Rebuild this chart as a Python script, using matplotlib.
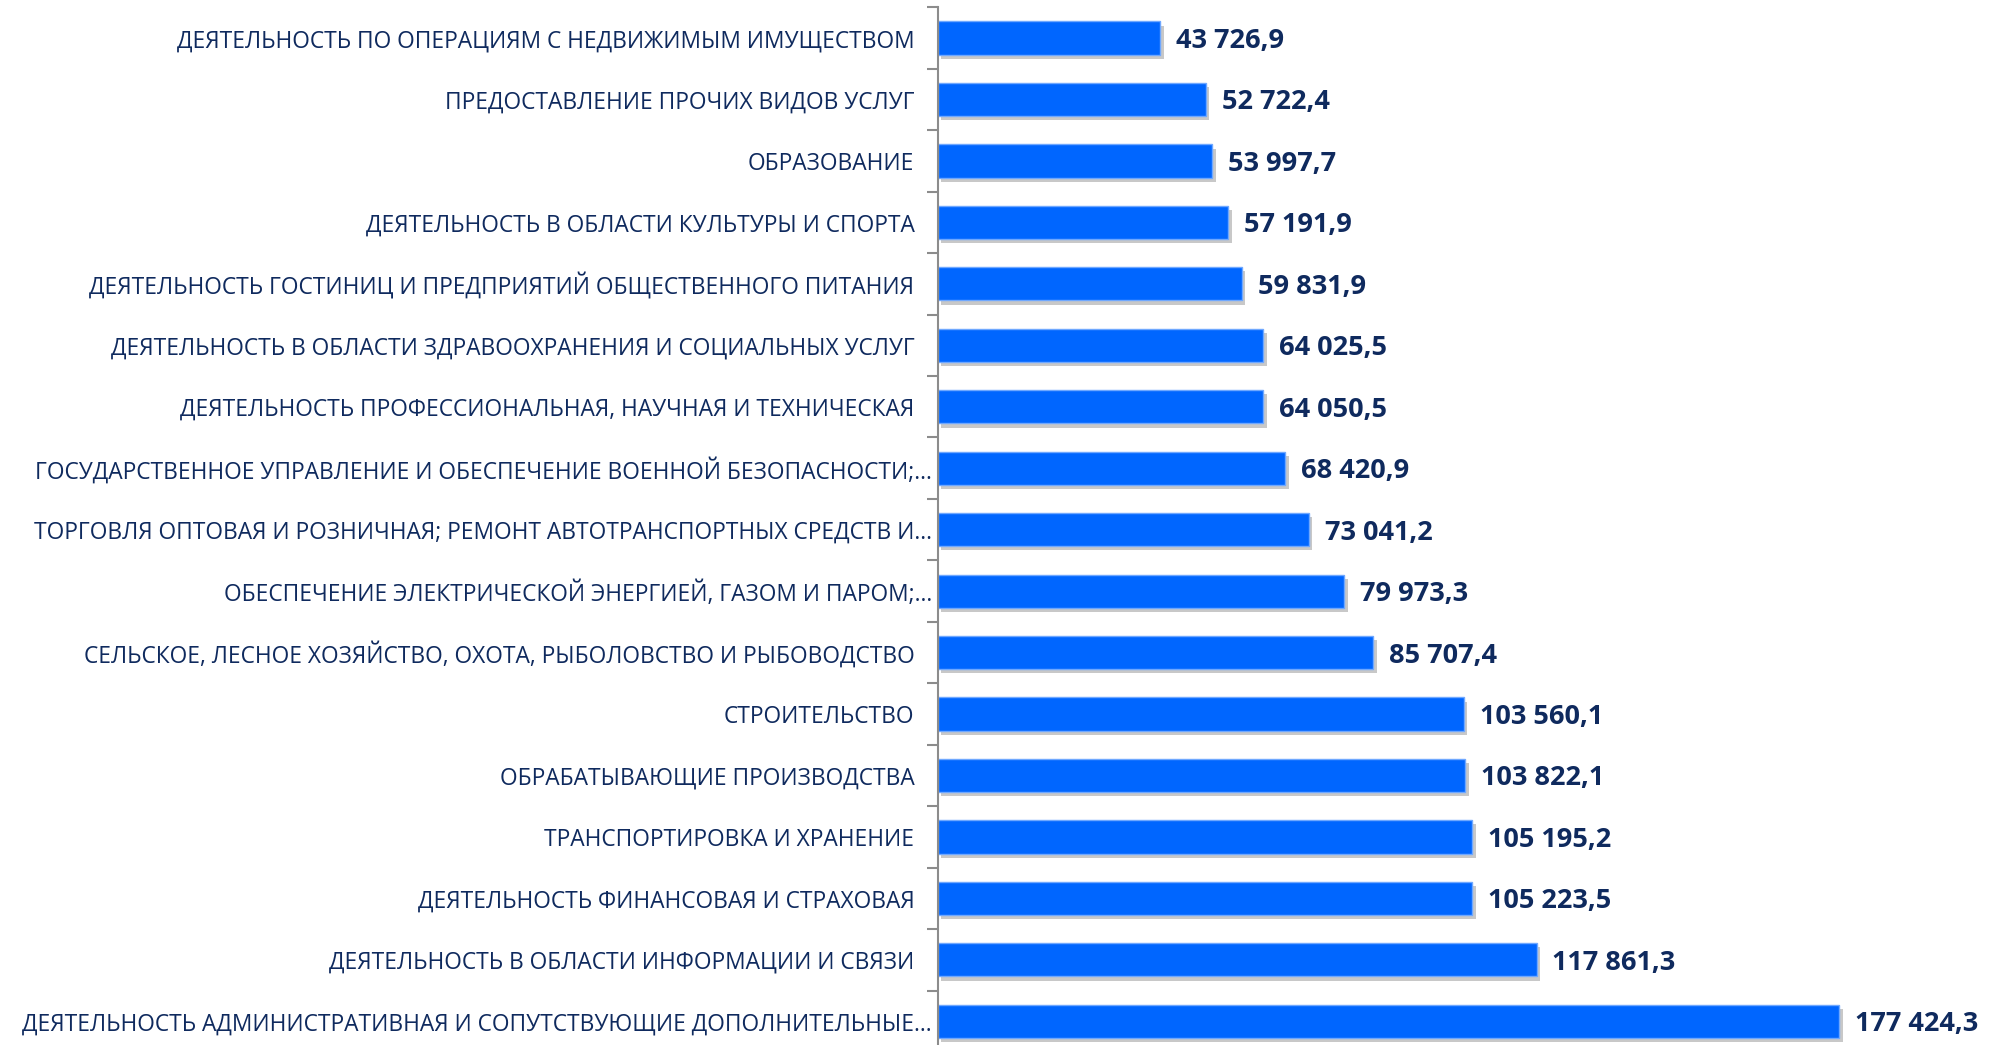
import numpy as np
import matplotlib
matplotlib.use("Agg")
import matplotlib.pyplot as plt
import matplotlib.patheffects as pe

##data (top to bottom as in the picture)
labels = [
    "ДЕЯТЕЛЬНОСТЬ ПО ОПЕРАЦИЯМ С НЕДВИЖИМЫМ ИМУЩЕСТВОМ",
    "ПРЕДОСТАВЛЕНИЕ ПРОЧИХ ВИДОВ УСЛУГ",
    "ОБРАЗОВАНИЕ",
    "ДЕЯТЕЛЬНОСТЬ В ОБЛАСТИ КУЛЬТУРЫ И СПОРТА",
    "ДЕЯТЕЛЬНОСТЬ ГОСТИНИЦ И ПРЕДПРИЯТИЙ ОБЩЕСТВЕННОГО ПИТАНИЯ",
    "ДЕЯТЕЛЬНОСТЬ В ОБЛАСТИ ЗДРАВООХРАНЕНИЯ И СОЦИАЛЬНЫХ УСЛУГ",
    "ДЕЯТЕЛЬНОСТЬ ПРОФЕССИОНАЛЬНАЯ, НАУЧНАЯ И ТЕХНИЧЕСКАЯ",
    "ГОСУДАРСТВЕННОЕ УПРАВЛЕНИЕ И ОБЕСПЕЧЕНИЕ ВОЕННОЙ БЕЗОПАСНОСТИ;…",
    "ТОРГОВЛЯ ОПТОВАЯ И РОЗНИЧНАЯ; РЕМОНТ АВТОТРАНСПОРТНЫХ СРЕДСТВ И…",
    "ОБЕСПЕЧЕНИЕ ЭЛЕКТРИЧЕСКОЙ ЭНЕРГИЕЙ, ГАЗОМ И ПАРОМ;…",
    "СЕЛЬСКОЕ, ЛЕСНОЕ ХОЗЯЙСТВО, ОХОТА, РЫБОЛОВСТВО И РЫБОВОДСТВО",
    "СТРОИТЕЛЬСТВО",
    "ОБРАБАТЫВАЮЩИЕ ПРОИЗВОДСТВА",
    "ТРАНСПОРТИРОВКА И ХРАНЕНИЕ",
    "ДЕЯТЕЛЬНОСТЬ ФИНАНСОВАЯ И СТРАХОВАЯ",
    "ДЕЯТЕЛЬНОСТЬ В ОБЛАСТИ ИНФОРМАЦИИ И СВЯЗИ",
    "ДЕЯТЕЛЬНОСТЬ АДМИНИСТРАТИВНАЯ И СОПУТСТВУЮЩИЕ ДОПОЛНИТЕЛЬНЫЕ…",
]
values = [43726.9, 52722.4, 53997.7, 57191.9, 59831.9, 64025.5, 64050.5,
          68420.9, 73041.2, 79973.3, 85707.4, 103560.1, 103822.1, 105195.2,
          105223.5, 117861.3, 177424.3]

##set up figure
W, H = 2001, 1045
fig = plt.figure(figsize=(W / 100, H / 100), dpi=100)
ax_left = 938 / W
ax_top = 7.3
ax_bottom = 1052.0
ax = fig.add_axes([ax_left, 1 - ax_bottom / H, 1 - ax_left, (ax_bottom - ax_top) / H])

navy = "#0F2A5E"
bar_col = "#0066FF"

y = np.arange(len(values))
bars = ax.barh(y, values, height=0.54, color=bar_col, edgecolor="#6FA8FF", linewidth=1.0)
for b in bars:
    b.set_path_effects([pe.SimplePatchShadow(offset=(2.5, -3), shadow_rgbFace="#777777", alpha=0.4),
                        pe.Normal()])

ax.set_ylim(len(values) - 0.5, -0.5)
ax.set_xlim(0, 209300)

##value labels
for yi, v in zip(y, values):
    txt = f"{v:,.1f}".replace(",", " ").replace(".", ",")
    ax.text(v + 3100, yi, txt, va="center_baseline", ha="left", fontsize=19.5, fontweight="bold",
            color=navy, family="Open Sans")

##category labels (truncated ones sit closer to the axis, like in excel)
for yi, lab in zip(y, labels):
    off = -4.3 if lab.endswith("…") else -17
    ax.annotate(lab, xy=(0, yi), xycoords=("axes fraction", "data"), xytext=(off, 0),
                textcoords="offset points", ha="right", va="center_baseline",
                fontsize=16.4, color=navy, family="Open Sans", annotation_clip=False)

##axis styling
for s in ["top", "right", "bottom"]:
    ax.spines[s].set_visible(False)
ax.spines["left"].set_color("#8C8C8C")
ax.spines["left"].set_linewidth(1.5)
ax.set_xticks([])
ax.set_yticks(np.arange(-0.5, len(values), 1))
ax.set_yticklabels([])
ax.tick_params(axis="y", length=8, width=1.5, color="#8C8C8C")

fig.savefig("out.png", dpi=100)
